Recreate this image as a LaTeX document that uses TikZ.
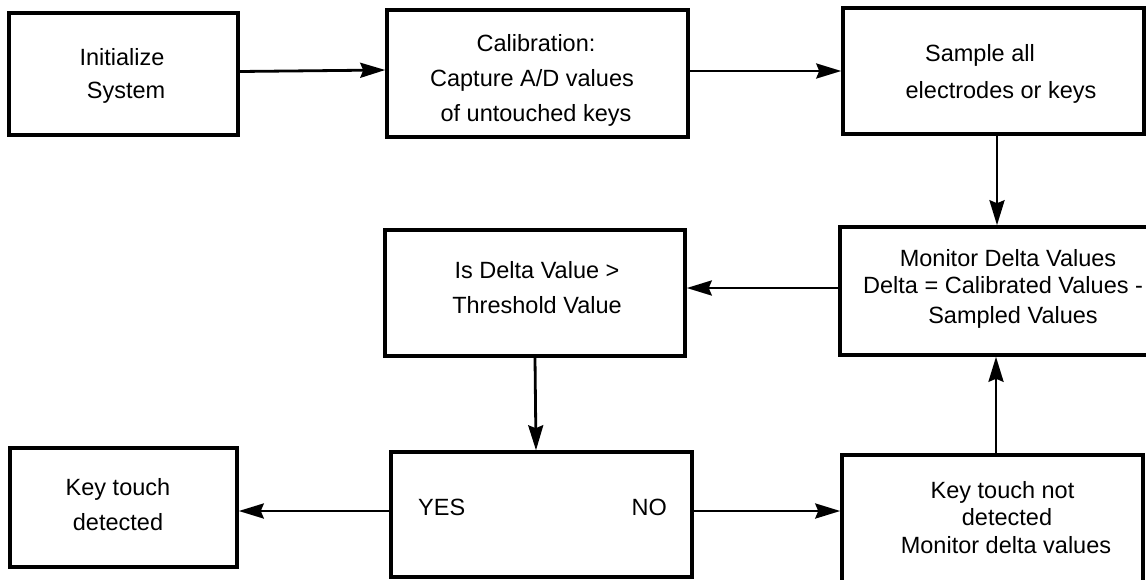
\documentclass[tikz,border=0pt]{standalone}
\usepackage{fontspec}
\setmainfont{Liberation Sans}
\usetikzlibrary{arrows.meta}
\tikzset{
  box/.style={draw=black, line width=3.5pt, rectangle, inner sep=0pt},
  txt/.style={anchor=base, inner sep=0pt, font=\fontsize{23.5}{28}\selectfont},
  arr/.style={draw=black, line width=2.8pt, -{Stealth[length=25pt,width=15pt,inset=3pt]}}
}
\newcommand{\bx}[5]{\node[box, minimum width=#4pt, minimum height=#5pt] (#1) at (#2,#3) {};}
\begin{document}
\begin{tikzpicture}[x=1pt,y=-1pt]
\useasboundingbox (0,0) rectangle (1146,579);
\clip (0,0) rectangle (1146,579);
% boxes
\bx{init}{123.5}{74}{229}{122}
\bx{calib}{537.5}{73.5}{301}{127}
\bx{sample}{993.5}{71}{301}{126}
\bx{monitor}{1007.5}{291}{335}{128}
\bx{isdelta}{535}{293}{300}{126}
\bx{yesno}{541.5}{514.5}{301}{125}
\bx{ktd}{123.5}{507.5}{227}{119}
\bx{ktnd}{992.5}{525}{301}{140}
% texts
\node[txt] (init1) at (122,65.5) {Initialize};
\node[txt] (init2) at (126,98.5) {System};
\node[txt] (cal1) at (536,51.5) {Calibration:};
\node[txt] (cal2) at (532,86.5) {Capture A/D values};
\node[txt] (cal3) at (536,121.5) {of untouched keys};
\node[txt] (sam1) at (980,61.5) {Sample all};
\node[txt] (sam2) at (1001,98.5) {electrodes or keys};
\node[txt] (mon1) at (1008,266.5) {Monitor Delta Values};
\node[txt, anchor=base west] (mon2) at (863,293.5) {Delta = Calibrated Values -};
\node[txt] (mon3) at (1013,323.5) {Sampled Values};
\node[txt] (isd1) at (537,278.5) {Is Delta Value >};
\node[txt] (isd2) at (537,313.5) {Threshold Value};
\node[txt, anchor=base west] (yes) at (418,515.5) {YES};
\node[txt, anchor=base east] (no) at (667,515.5) {NO};
\node[txt] (ktd1) at (118,495.5) {Key touch};
\node[txt] (ktd2) at (118,530.5) {detected};
\node[txt] (ktn1) at (1002.5,498) {Key touch not};
\node[txt] (ktn2) at (1007,525) {detected};
\node[txt] (ktn3) at (1006,553) {Monitor delta values};
% connectors
\draw[arr] ([yshift=2.5pt]init.east) -- ([yshift=3.5pt]calib.west);
\draw[arr] ([yshift=2.5pt]calib.east) -- (sample.west);
\draw[arr] ([xshift=3.5pt]sample.south) -- ([xshift=-10.5pt]monitor.north);
\draw[arr] ([yshift=3pt]monitor.west) -- ([yshift=5pt]isdelta.east);
\draw[arr] (isdelta.south) -- ([xshift=-5.5pt]yesno.north);
\draw[arr] ([yshift=3.5pt]yesno.west) -- ([yshift=-3.5pt]ktd.east);
\draw[arr] ([yshift=3.5pt]yesno.east) -- ([yshift=14pt]ktnd.west);
\draw[arr] ([xshift=3.5pt]ktnd.north) -- ([xshift=-11.5pt]monitor.south);
\end{tikzpicture}
\end{document}
